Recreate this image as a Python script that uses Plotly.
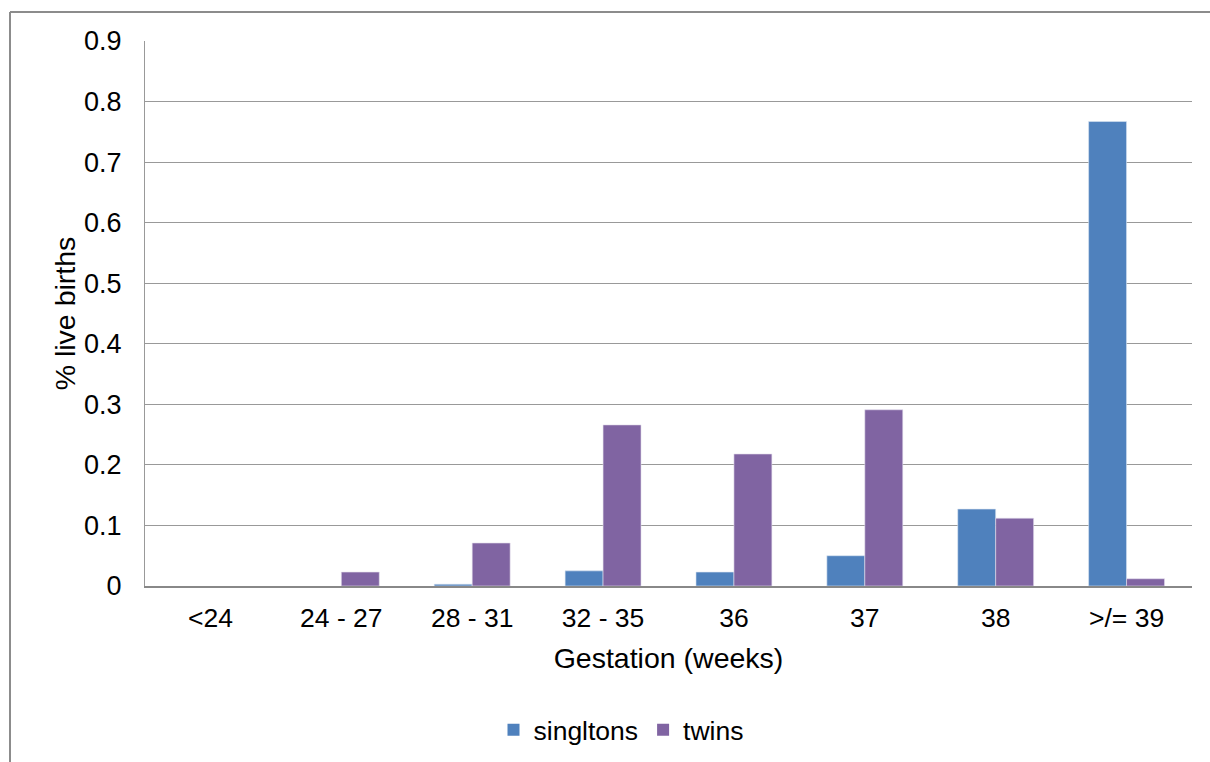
import plotly.graph_objects as go

# Share of live births by gestational age
categories = ["<24", "24 - 27", "28 - 31", "32 - 35", "36", "37", "38", ">/= 39"]
singletons = [0.0, 0.0, 0.003, 0.025, 0.023, 0.050, 0.127, 0.767]
twins = [0.0, 0.023, 0.071, 0.266, 0.218, 0.291, 0.112, 0.012]
y_ticks = [0, 0.1, 0.2, 0.3, 0.4, 0.5, 0.6, 0.7, 0.8, 0.9]

FONT = "Liberation Sans, Arial, sans-serif"


def edge_widths(values):
    # no outline on empty bars so they stay invisible
    return [0 if v == 0 else 0.6 for v in values]


fig = go.Figure()
fig.add_trace(go.Bar(
    x=categories, y=singletons, name="singltons",
    marker=dict(color="#4F81BD",
                line=dict(color="#DCE6F2", width=edge_widths(singletons))),
))
fig.add_trace(go.Bar(
    x=categories, y=twins, name="twins",
    marker=dict(color="#8064A2",
                line=dict(color="#E4DFEC", width=edge_widths(twins))),
))

W, H = 1210, 762
L, R, T, B = 145, 18, 41, 176
pw, ph = W - L - R, H - T - B


def px_x(x):
    return (x - L) / pw


def px_y(y):
    return (H - B - y) / ph


fig.update_layout(
    width=W, height=H,
    margin=dict(l=L, r=R, t=T, b=B, autoexpand=False),
    paper_bgcolor="white", plot_bgcolor="white",
    barmode="group", bargap=0.42, bargroupgap=0,
    font=dict(family=FONT, size=26, color="#000000"),
    showlegend=True,
    legend=dict(
        orientation="h", x=px_x(621), xanchor="center",
        y=px_y(730), yanchor="middle",
        font=dict(size=26.5), itemwidth=30, traceorder="normal",
    ),
    xaxis=dict(
        title=dict(text="Gestation (weeks)", font=dict(size=28.5), standoff=17),
        showgrid=False, showline=True, linecolor="#888888", linewidth=1.5,
        ticks="", ticklabelstandoff=7, tickfont=dict(size=26.5),
    ),
    yaxis=dict(
        title=dict(text="% live births", font=dict(size=28.5), standoff=0),
        range=[0, 0.9], tickvals=y_ticks,
        ticktext=["0" if v == 0 else f"{v:.1f}" for v in y_ticks],
        showgrid=True, gridcolor="#999999", gridwidth=1,
        showline=True, linecolor="#999999", linewidth=1,
        zeroline=False, ticks="", ticklabelstandoff=17,
        tickfont=dict(size=27),
    ),
    shapes=[
        # outer chart frame (left and top edges)
        dict(type="line", xref="paper", yref="paper",
             x0=px_x(10), x1=px_x(10), y0=px_y(12), y1=px_y(H + 5),
             line=dict(color="#8C8C8C", width=2)),
        dict(type="line", xref="paper", yref="paper",
             x0=px_x(10), x1=px_x(W + 5), y0=px_y(12), y1=px_y(12),
             line=dict(color="#8C8C8C", width=2)),
    ],
)

fig.write_html("out.html")
